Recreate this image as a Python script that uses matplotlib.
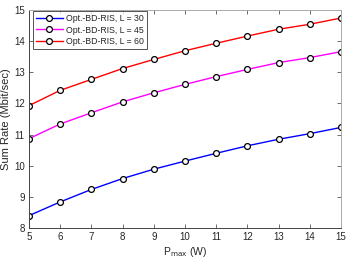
import matplotlib
matplotlib.use('Agg')
import matplotlib.pyplot as plt

# transmit power (W)
p_max = [5, 6, 7, 8, 9, 10, 11, 12, 13, 14, 15]

# sum rate (Mbit/sec)
rate_l30 = [8.40, 8.84, 9.24, 9.59, 9.89, 10.15, 10.40, 10.64, 10.85, 11.03, 11.23]
rate_l45 = [10.87, 11.34, 11.70, 12.05, 12.34, 12.61, 12.86, 13.09, 13.31, 13.47, 13.66]
rate_l60 = [11.93, 12.42, 12.77, 13.12, 13.41, 13.69, 13.93, 14.16, 14.38, 14.54, 14.74]

series = [
    ('Opt.-BD-RIS, L = 30', rate_l30, '#0000ff'),
    ('Opt.-BD-RIS, L = 45', rate_l45, '#ff00ff'),
    ('Opt.-BD-RIS, L = 60', rate_l60, '#ff0000'),
]

plt.rcParams['font.family'] = ['Liberation Sans', 'DejaVu Sans']
plt.rcParams['font.size'] = 7

fig = plt.figure(figsize=(3.49, 2.61), dpi=100)
ax = fig.add_axes([0.083, 0.126, 0.894, 0.836])

for label, vals, col in series:
    ax.plot(p_max, vals, '-o', color=col, lw=1.0, markersize=4.2,
            markerfacecolor='white', markeredgecolor='black', markeredgewidth=0.9,
            label=label)

ax.set_xlim(5, 15)
ax.set_ylim(8, 15)
ax.set_xticks(range(5, 16))
ax.set_yticks(range(8, 16))

tick_col = '#262626'
for side in ['left', 'bottom']:
    ax.spines[side].set_color('#444444')
for side in ['top', 'right']:
    ax.spines[side].set_color('#aaaaaa')
for sp in ax.spines.values():
    sp.set_linewidth(0.7)
ax.tick_params(direction='in', length=3, width=0.6, colors='#555555',
               labelcolor=tick_col, top=True, right=True, pad=3)

ax.set_xlabel(r'P$_{\mathrm{max}}$ (W)', color=tick_col, fontsize=7.5, labelpad=2)
ax.set_ylabel('Sum Rate (Mbit/sec)', color=tick_col, fontsize=8, labelpad=2)

leg = ax.legend(loc='upper left', bbox_to_anchor=(0.013, 0.995), borderaxespad=0,
                fontsize=6.3, frameon=True, fancybox=False,
                handlelength=3.1, handletextpad=0.4,
                labelspacing=0.33, borderpad=0.3)
leg.get_frame().set_edgecolor('#262626')
leg.get_frame().set_linewidth(0.7)
for t in leg.get_texts():
    t.set_color(tick_col)

fig.savefig('out.png', dpi=100)
